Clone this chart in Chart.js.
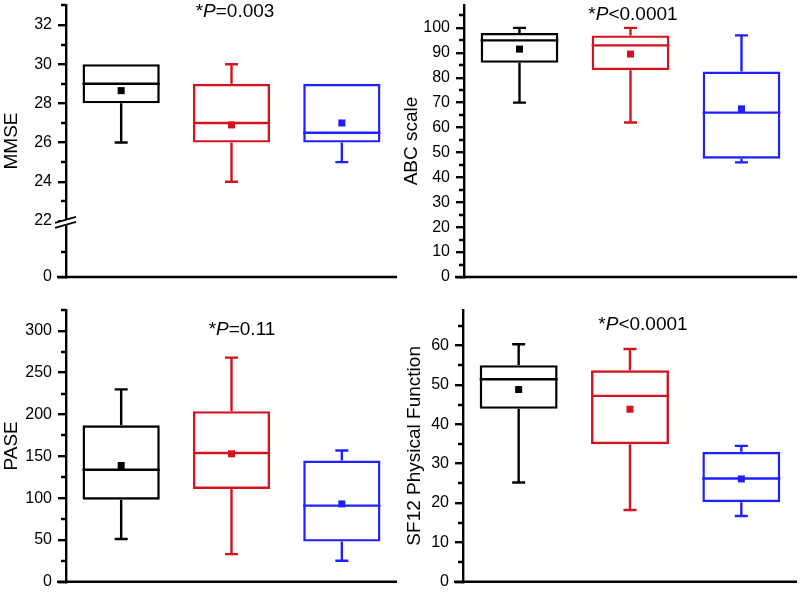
<!DOCTYPE html>
<html>
<head>
<meta charset="utf-8">
<script src="https://cdn.jsdelivr.net/npm/chart.js@4/dist/chart.umd.min.js"></script>
<style>
  html, body { margin: 0; padding: 0; background: #fff; }
  #wrap { position: relative; width: 800px; height: 594px; }
  .panel { position: absolute; width: 400px; height: 297px; }
</style>
</head>
<body>
<div id="wrap">
  <div class="panel" style="left:0;top:0"><canvas id="mmse" width="400" height="297"></canvas></div>
  <div class="panel" style="left:400px;top:0"><canvas id="abc" width="400" height="297"></canvas></div>
  <div class="panel" style="left:0;top:297px"><canvas id="pase" width="400" height="297"></canvas></div>
  <div class="panel" style="left:400px;top:297px"><canvas id="sf12" width="400" height="297"></canvas></div>
</div>
<script>
const groups = ['Group 1', 'Group 2', 'Group 3'];
const groupColors = ['#000000', '#d2141e', '#2020ff'];

// MMSE (axis broken between 0 and 22)
const mmseLow = [26, 24, 25];
const mmseQ1 = [28, 26, 26];
const mmseMedian = [29, 27, 26.5];
const mmseQ3 = [30, 29, 29];
const mmseHigh = [30, 30, 29];
const mmseMean = [28.65, 26.9, 27.0];
const mmseTicks = [0, 22, 24, 26, 28, 30, 32];
const mmseMinor = [10, 23, 25, 27, 29, 31, 33];

// ABC scale
const abcLow = [70, 62, 46];
const abcQ1 = [86, 83, 47.5];
const abcMedian = [95, 93, 66];
const abcQ3 = [98, 97, 82.5];
const abcHigh = [100, 100, 97];
const abcMean = [91.5, 89.5, 67.5];
const abcTicks = [0, 10, 20, 30, 40, 50, 60, 70, 80, 90, 100];
const abcMinor = [5, 15, 25, 35, 45, 55, 65, 75, 85, 95, 105];

// PASE
const paseLow = [51, 33, 25];
const paseQ1 = [98, 111, 48];
const paseMedian = [134, 154, 91];
const paseQ3 = [187, 204, 145];
const paseHigh = [230, 268, 157];
const paseMean = [139, 153, 93];
const paseTicks = [0, 50, 100, 150, 200, 250, 300];
const paseMinor = [25, 75, 125, 175, 225, 275, 325];

// SF12 Physical Function
const sfLow = [25.2, 18.2, 16.7];
const sfQ1 = [43.9, 34.9, 20.2];
const sfMedian = [51.4, 47.2, 26.2];
const sfQ3 = [55, 53.7, 33];
const sfHigh = [60.3, 59.1, 34.5];
const sfMean = [48.8, 43.8, 26.1];
const sfTicks = [0, 10, 20, 30, 40, 50, 60];
const sfMinor = [5, 15, 25, 35, 45, 55, 65];

const FONT = 'Liberation Sans, Arial, sans-serif';
const LW = 2.4;

// squeeze 0..22 into a short stub below the break
const BREAK_AT = 22;
const BREAK_BOTTOM = 19.14;
const mmseAxis = v => v >= BREAK_AT ? v : BREAK_BOTTOM + v * (BREAK_AT - BREAK_BOTTOM) / BREAK_AT;
const plainAxis = v => v;

function boxExtras(p) {
  return {
    id: 'boxExtras',
    afterDraw(chart) {
      const { ctx, chartArea, scales: { y } } = chart;
      const ds = chart.data.datasets[0];
      const meta = chart.getDatasetMeta(0);
      ctx.save();
      ctx.lineWidth = LW;
      ctx.strokeStyle = '#000';

      // x axis line (runs a little past the y axis)
      ctx.beginPath();
      ctx.moveTo(chartArea.left - 9, chartArea.bottom);
      ctx.lineTo(chartArea.right, chartArea.bottom);
      // minor ticks
      p.minor.forEach(v => {
        const py = Math.round(y.getPixelForValue(p.toAxis(v)));
        ctx.moveTo(chartArea.left - 5, py);
        ctx.lineTo(chartArea.left, py);
      });
      ctx.stroke();

      // axis break marks
      if (p.broken) {
        const cy = y.getPixelForValue(BREAK_AT) + 1.5;
        const x0 = chartArea.left - 11, x1 = chartArea.left + 10;
        ctx.fillStyle = '#fff';
        ctx.beginPath();
        ctx.moveTo(x0, cy + 5); ctx.lineTo(x1, cy - 1); ctx.lineTo(x1, cy - 6); ctx.lineTo(x0, cy);
        ctx.closePath();
        ctx.fill();
        ctx.lineWidth = 1.8;
        ctx.beginPath();
        ctx.moveTo(x0, cy + 5.5); ctx.lineTo(x1, cy - 0.5);
        ctx.moveTo(x0, cy + 0.5); ctx.lineTo(x1, cy - 5.5);
        ctx.stroke();
        ctx.lineWidth = LW;
      }

      // whiskers, medians, means
      meta.data.forEach((bar, i) => {
        const c = groupColors[i];
        const half = bar.width / 2;
        const cx = bar.x;
        const py = v => y.getPixelForValue(v);
        ctx.strokeStyle = c;
        ctx.fillStyle = c;
        ctx.beginPath();
        if (ds.high[i] > ds.q3[i]) {
          ctx.moveTo(cx, py(ds.q3[i])); ctx.lineTo(cx, py(ds.high[i]));
          ctx.moveTo(cx - 6.5, py(ds.high[i])); ctx.lineTo(cx + 6.5, py(ds.high[i]));
        }
        if (ds.low[i] < ds.q1[i]) {
          ctx.moveTo(cx, py(ds.q1[i])); ctx.lineTo(cx, py(ds.low[i]));
          ctx.moveTo(cx - 6.5, py(ds.low[i])); ctx.lineTo(cx + 6.5, py(ds.low[i]));
        }
        ctx.moveTo(cx - half, py(ds.median[i])); ctx.lineTo(cx + half, py(ds.median[i]));
        ctx.stroke();
        const my = py(ds.mean[i]);
        ctx.fillRect(cx - 3.5, my - 3.5, 7, 7);
      });

      // p value, P in italics
      const parts = [['*', ''], ['P', 'italic '], [p.pText, '']];
      let total = 0;
      parts.forEach(([t, st]) => { ctx.font = st + '19px ' + FONT; total += ctx.measureText(t).width; });
      let tx = p.pPos[0] - total / 2;
      ctx.fillStyle = '#000';
      ctx.textBaseline = 'middle';
      ctx.textAlign = 'left';
      parts.forEach(([t, st]) => {
        ctx.font = st + '19px ' + FONT;
        ctx.fillText(t, tx, p.pPos[1]);
        tx += ctx.measureText(t).width;
      });
      ctx.restore();
    }
  };
}

const panels = [
  { id: 'mmse', title: 'MMSE', low: mmseLow, q1: mmseQ1, median: mmseMedian, q3: mmseQ3, high: mmseHigh, mean: mmseMean,
    ticks: mmseTicks, minor: mmseMinor, toAxis: mmseAxis, broken: true, min: BREAK_BOTTOM, max: 33.02,
    axisW: 66, pad: { top: 5, bottom: 20, right: 3 }, titlePad: 0, pText: '=0.003', pPos: [235, 12] },
  { id: 'abc', title: 'ABC scale', low: abcLow, q1: abcQ1, median: abcMedian, q3: abcQ3, high: abcHigh, mean: abcMean,
    ticks: abcTicks, minor: abcMinor, toAxis: plainAxis, broken: false, min: 0, max: 109.2,
    axisW: 64, pad: { top: 5, bottom: 20, right: 3 }, titlePad: 0, pText: '<0.0001', pPos: [233, 15] },
  { id: 'pase', title: 'PASE', low: paseLow, q1: paseQ1, median: paseMedian, q3: paseQ3, high: paseHigh, mean: paseMean,
    ticks: paseTicks, minor: paseMinor, toAxis: plainAxis, broken: false, min: 0, max: 325,
    axisW: 66, pad: { top: 13, bottom: 12.3, right: 3 }, titlePad: 0, pText: '=0.11', pPos: [242, 33] },
  { id: 'sf12', title: 'SF12 Physical Function', low: sfLow, q1: sfQ1, median: sfMedian, q3: sfQ3, high: sfHigh, mean: sfMean,
    ticks: sfTicks, minor: sfMinor, toAxis: plainAxis, broken: false, min: 0, max: 69,
    axisW: 63, pad: { top: 13, bottom: 12.3, right: 3 }, titlePad: 3, pText: '<0.0001', pPos: [243, 28] },
];

panels.forEach(p => {
  new Chart(document.getElementById(p.id), {
    type: 'bar',
    data: {
      labels: groups,
      datasets: [{
        data: p.q1.map((v, i) => [v, p.q3[i]]),
        low: p.low, q1: p.q1, median: p.median, q3: p.q3, high: p.high, mean: p.mean,
        backgroundColor: 'rgba(0,0,0,0)',
        borderColor: groupColors,
        borderWidth: LW,
        borderSkipped: false,
        barPercentage: 0.7,
        categoryPercentage: 1,
      }],
    },
    options: {
      responsive: false,
      animation: false,
      layout: { padding: { left: 0, top: p.pad.top, bottom: p.pad.bottom, right: p.pad.right } },
      plugins: { legend: { display: false }, tooltip: { enabled: false } },
      scales: {
        x: { display: false, offset: true },
        y: {
          min: p.min,
          max: p.max,
          afterFit: s => { s.width = p.axisW; s.paddingTop = 0; s.paddingBottom = 0; },
          afterBuildTicks: s => { s.ticks = p.ticks.map(v => ({ value: p.toAxis(v) })); },
          ticks: {
            color: '#000',
            padding: 6,
            font: { family: FONT, size: 16 },
            callback: (v, i) => String(p.ticks[i]),
          },
          grid: { drawOnChartArea: false, drawTicks: true, tickLength: 8, color: '#000', lineWidth: LW },
          border: { display: true, color: '#000', width: LW },
          title: { display: true, text: p.title, color: '#000', font: { family: FONT, size: 19 }, padding: { top: p.titlePad, bottom: 0 } },
        },
      },
    },
    plugins: [boxExtras(p)],
  });
});
</script>
</body>
</html>
